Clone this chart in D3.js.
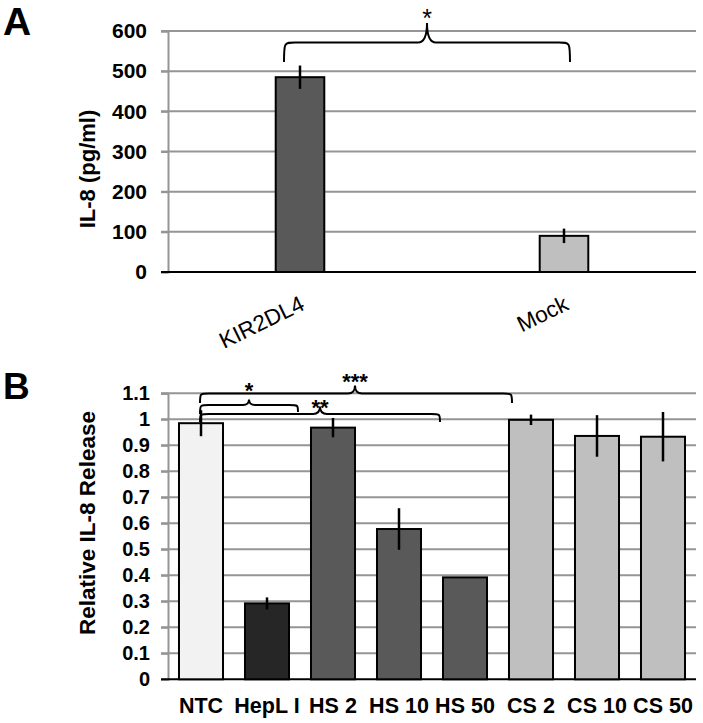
<!DOCTYPE html>
<html><head><meta charset="utf-8">
<script src="https://cdn.jsdelivr.net/npm/d3@7"></script>
<style>
html,body{margin:0;padding:0;background:#fff;}
svg text{font-family:"Liberation Sans",Arial,sans-serif;}
</style></head>
<body>
<svg id="c" width="703" height="723"></svg>
<script>
// ---- Panel A data ----
const catsA = ["KIR2DL4", "Mock"];
const valsA = [485, 90];
const errA = [29, 18];
const fillA = ["#595959", "#bfbfbf"];
const ticksA = [0, 100, 200, 300, 400, 500, 600];
const tickLabelsA = ["0", "100", "200", "300", "400", "500", "600"];

// ---- Panel B data ----
const catsB = ["NTC", "HepL I", "HS 2", "HS 10", "HS 50", "CS 2", "CS 10", "CS 50"];
const valsB = [0.985, 0.292, 0.968, 0.578, 0.392, 0.998, 0.936, 0.933];
const errB = [0.05, 0.023, 0.037, 0.08, 0, 0.02, 0.08, 0.095];
const fillB = ["#f2f2f2", "#262626", "#595959", "#595959", "#595959", "#bfbfbf", "#bfbfbf", "#bfbfbf"];
const ticksB = [0, 0.1, 0.2, 0.3, 0.4, 0.5, 0.6, 0.7, 0.8, 0.9, 1.0, 1.1];
const tickLabelsB = ["0", "0.1", "0.2", "0.3", "0.4", "0.5", "0.6", "0.7", "0.8", "0.9", "1", "1.1"];

// significance braces
const sigA = [{from: 0, to: 1, label: "*"}];
const sigB = [
  {from: "NTC", to: "CS 2", label: "***"},
  {from: "NTC", to: "HepL I", label: "*"},
  {from: "NTC", to: "HS 50", label: "**"}
];

const svg = d3.select("#c");
const L = 168, R = 696;
const gridC = "#959595";

function brace(g, x1, x2, xm, yH, yEnd1, yEnd2, yTip, r, r2) {
  const p = d3.path();
  p.moveTo(x1, yEnd1);
  p.bezierCurveTo(x1, yH, x1, yH, x1 + r, yH);
  p.lineTo(xm - r2, yH);
  p.quadraticCurveTo(xm, yH, xm, yTip);
  p.quadraticCurveTo(xm, yH, xm + r2, yH);
  p.lineTo(x2 - r, yH);
  p.bezierCurveTo(x2, yH, x2, yH, x2, yEnd2);
  g.append("path").attr("d", p.toString()).attr("fill", "none")
    .attr("stroke", "#000").attr("stroke-width", 2);
}

function panel(cfg) {
  const g = svg.append("g");
  const y = d3.scaleLinear().domain(cfg.domain).range(cfg.yRange);
  const x = d3.scaleBand().domain(cfg.cats).range([L, R]).padding(0);
  g.selectAll("line.grid").data(cfg.ticks.filter(t => t > 0)).join("line")
    .attr("x1", L - 7).attr("x2", R).attr("y1", d => y(d)).attr("y2", d => y(d))
    .attr("stroke", gridC).attr("stroke-width", 2);
  const ax = d3.axisLeft(y).tickValues(cfg.ticks).tickSize(7).tickPadding(cfg.pad)
    .tickFormat((d, i) => cfg.tickLabels[i]);
  const axG = g.append("g").attr("transform", `translate(${L},0)`).call(ax);
  axG.select(".domain").attr("stroke", gridC).attr("stroke-width", 2);
  axG.selectAll(".tick line").attr("stroke", gridC).attr("stroke-width", 2);
  axG.selectAll(".tick text").attr("fill", "#000").style("font-size", cfg.tickFs + "px")
    .style("font-weight", "bold").style("font-family", '"Liberation Sans",Arial,sans-serif');
  g.append("line").attr("x1", L - 7).attr("x2", R).attr("y1", y(0)).attr("y2", y(0))
    .attr("stroke", "#000").attr("stroke-width", 2);
  const bw = x.bandwidth() * cfg.barFrac;
  const cx = d => x(d) + x.bandwidth() / 2;
  g.selectAll("rect.bar").data(cfg.cats).join("rect")
    .attr("x", d => cx(d) - bw / 2).attr("width", bw)
    .attr("y", (d, i) => y(cfg.vals[i])).attr("height", (d, i) => y(0) - y(cfg.vals[i]))
    .attr("fill", (d, i) => cfg.fills[i]).attr("stroke", "#000").attr("stroke-width", 2);
  g.selectAll("line.err").data(cfg.cats.filter((d, i) => cfg.errs[i] > 0)).join("line")
    .attr("x1", d => cx(d)).attr("x2", d => cx(d))
    .attr("y1", d => { const i = cfg.cats.indexOf(d); return y(cfg.vals[i] + cfg.errs[i]); })
    .attr("y2", d => { const i = cfg.cats.indexOf(d); return y(cfg.vals[i] - cfg.errs[i]); })
    .attr("stroke", "#000").attr("stroke-width", 2.5);
  g.append("text").attr("transform", `translate(${cfg.ylabX},${cfg.ylabY}) rotate(-90)`)
    .attr("text-anchor", "middle").attr("dy", "0.35em")
    .style("font-size", cfg.ylabFs + "px").style("font-weight", "bold").text(cfg.ylab);
  return {g, x, y, cx};
}

// ---- Panel A ----
const A = panel({cats: catsA, vals: valsA, errs: errA, fills: fillA, domain: [0, 600], yRange: [272, 31],
  ticks: ticksA, tickLabels: tickLabelsA, pad: 14, tickFs: 21, barFrac: 0.184,
  ylab: "IL-8 (pg/ml)", ylabX: 87, ylabY: 169, ylabFs: 22});
A.g.selectAll("text.xl").data(catsA).join("text")
  .attr("transform", d => `translate(${A.cx(d) + 6},309) rotate(-26)`)
  .attr("text-anchor", "end").style("font-size", "22.5px").text(d => d);
{
  const x1 = A.cx(catsA[sigA[0].from]) - 16, x2 = A.cx(catsA[sigA[0].to]) + 6;
  const xm = (x1 + x2) / 2;
  brace(A.g, x1, x2, xm, 42.5, 62, 62, 23, 11, 9);
  A.g.append("text").attr("x", xm).attr("y", 27).attr("text-anchor", "middle")
    .style("font-size", "25px").text(sigA[0].label);
}
svg.append("text").attr("x", 3).attr("y", 35).style("font-size", "39px").style("font-weight", "bold").text("A");

// ---- Panel B ----
const B = panel({cats: catsB, vals: valsB, errs: errB, fills: fillB, domain: [0, 1.1], yRange: [679.3, 393.3],
  ticks: ticksB, tickLabels: tickLabelsB, pad: 11, tickFs: 20, barFrac: 0.667,
  ylab: "Relative IL-8 Release", ylabX: 87, ylabY: 523, ylabFs: 22.5});
B.g.selectAll("text.xl").data(catsB).join("text")
  .attr("x", d => B.cx(d)).attr("y", 713).attr("text-anchor", "middle")
  .style("font-size", "21.5px").style("font-weight", "bold").text(d => d);
{
  const x0 = B.cx("NTC") - 1;
  let x2 = B.cx("CS 2") - 19, xm = 355;
  brace(B.g, x0, x2, xm, 393.5, 403, 403, 385.5, 9, 7);
  B.g.append("text").attr("x", xm).attr("y", 389).attr("text-anchor", "middle")
    .style("font-size", "22px").style("font-weight", "bold").text(sigB[0].label);
  x2 = B.cx("HepL I") + 31; xm = 249;
  brace(B.g, x0, x2, xm, 405, 414, 412, 399.5, 9, 6);
  B.g.append("text").attr("x", xm).attr("y", 398).attr("text-anchor", "middle")
    .style("font-size", "22px").style("font-weight", "bold").text(sigB[1].label);
  x2 = B.cx("HS 10") + 41; xm = 320;
  brace(B.g, x0, x2, xm, 414, 422, 422, 406.5, 9, 7);
  B.g.append("text").attr("x", xm).attr("y", 415).attr("text-anchor", "middle")
    .style("font-size", "22px").style("font-weight", "bold").text(sigB[2].label);
}
svg.append("text").attr("x", 3).attr("y", 399).style("font-size", "37px").style("font-weight", "bold").text("B");
</script>
</body></html>
